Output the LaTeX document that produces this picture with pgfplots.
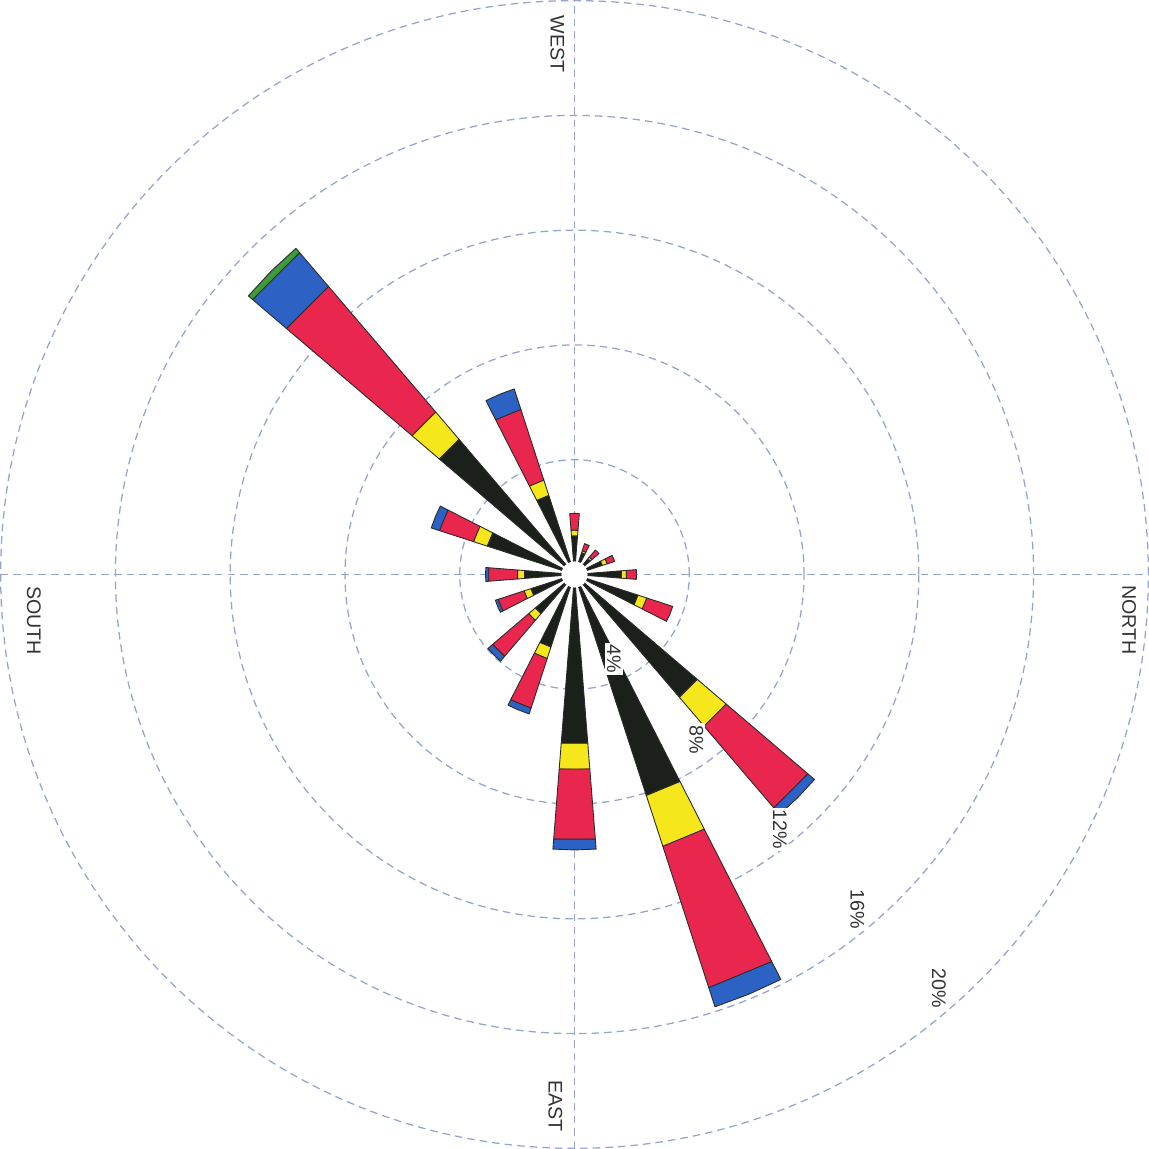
\documentclass[border=0pt]{standalone}
\usepackage{fontspec}
\setmainfont{Liberation Sans}
\usepackage{pgfplots}
\pgfplotsset{compat=1.18}
\definecolor{wblack}{HTML}{1B211A}
\definecolor{wyellow}{HTML}{F5E71C}
\definecolor{wred}{HTML}{E8264E}
\definecolor{wblue}{HTML}{2B62C4}
\definecolor{wgreen}{HTML}{3E9B3A}
\definecolor{gridcol}{HTML}{95A3CF}
\definecolor{edgecol}{HTML}{2A2A2A}
\definecolor{txtcol}{HTML}{333333}
\tikzset{lab/.style={font=\fontsize{7.8}{9}\selectfont, text=txtcol, inner sep=0.8pt},
  gridline/.style={gridcol, line width=0.5pt, dash pattern=on 3pt off 2pt}}
% #1 colour, #2 angle (360 - compass bearing), #3 inner radius, #4 outer radius (percent)
\newcommand\seg[4]{%
  \pgfmathsetmacro\xa{#3*cos(#2-4.5)}\pgfmathsetmacro\ya{#3*sin(#2-4.5)}%
  \pgfmathsetmacro\xb{#4*cos(#2-4.5)}\pgfmathsetmacro\yb{#4*sin(#2-4.5)}%
  \pgfmathsetmacro\xc{#4*cos(#2)}\pgfmathsetmacro\yc{#4*sin(#2)}%
  \pgfmathsetmacro\xd{#4*cos(#2+4.5)}\pgfmathsetmacro\yd{#4*sin(#2+4.5)}%
  \pgfmathsetmacro\xe{#3*cos(#2+4.5)}\pgfmathsetmacro\ye{#3*sin(#2+4.5)}%
  \edef\tmp{\noexpand\addplot[fill=#1,draw=edgecol,line width=0.35pt,line join=round] coordinates {(\xa,\ya) (\xb,\yb) (\xc,\yc) (\xd,\yd) (\xe,\ye)} --cycle;}%
  \tmp}
\begin{document}
\begin{tikzpicture}
\begin{axis}[
  width=16.126cm, height=16.068cm, scale only axis,
  xmin=-20.14, xmax=20.175, ymin=-20.03, ymax=20.14,
  hide axis, clip=false,
]
% grid
\draw[gridline] (axis cs:0,0) circle[radius=1.6cm];
\draw[gridline] (axis cs:0,0) circle[radius=3.2cm];
\draw[gridline] (axis cs:0,0) circle[radius=4.8cm];
\draw[gridline] (axis cs:0,0) circle[radius=6.4cm];
\draw[gridline] (axis cs:0,0) circle[radius=8.0cm];
\draw[gridline] (axis cs:-20,0) -- (axis cs:20,0);
\draw[gridline] (axis cs:0,-20) -- (axis cs:0,20);
% N
\seg{wblack}{360}{0}{1.64}\seg{wyellow}{360}{1.64}{1.81}\seg{wred}{360}{1.81}{2.16}
% NNE
\seg{wblack}{337.5}{0}{2.33}\seg{wyellow}{337.5}{2.33}{2.65}\seg{wred}{337.5}{2.65}{3.6}
% NE
\seg{wblack}{315}{0}{5.63}\seg{wyellow}{315}{5.63}{6.95}\seg{wred}{315}{6.95}{10.7}\seg{wblue}{315}{10.7}{11.0}
% ENE
\seg{wblack}{292.5}{0}{8.1}\seg{wyellow}{292.5}{8.1}{9.96}\seg{wred}{292.5}{9.96}{15.14}\seg{wblue}{292.5}{15.14}{15.84}
% E
\seg{wblack}{270}{0}{5.9}\seg{wyellow}{270}{5.9}{6.8}\seg{wred}{270}{6.8}{9.25}\seg{wblue}{270}{9.25}{9.6}
% ESE
\seg{wblack}{247.5}{0}{2.66}\seg{wyellow}{247.5}{2.66}{3.08}\seg{wred}{247.5}{3.08}{4.9}\seg{wblue}{247.5}{4.9}{5.11}
% SE
\seg{wblack}{225}{0}{1.8}\seg{wyellow}{225}{1.8}{2.1}\seg{wred}{225}{2.1}{3.75}\seg{wblue}{225}{3.75}{3.97}
% SSE
\seg{wblack}{202.5}{0}{1.6}\seg{wyellow}{202.5}{1.6}{1.85}\seg{wred}{202.5}{1.85}{2.8}\seg{wblue}{202.5}{2.8}{2.9}
% S
\seg{wblack}{180}{0}{1.75}\seg{wyellow}{180}{1.75}{1.99}\seg{wred}{180}{1.99}{3.0}\seg{wblue}{180}{3.0}{3.1}
% SSW
\seg{wblack}{157.5}{0}{3.2}\seg{wyellow}{157.5}{3.2}{3.7}\seg{wred}{157.5}{3.7}{4.95}\seg{wblue}{157.5}{4.95}{5.25}
% SW
\seg{wblack}{135}{0}{6.2}\seg{wyellow}{135}{6.2}{7.45}\seg{wred}{135}{7.45}{13.2}\seg{wblue}{135}{13.2}{14.75}\seg{wgreen}{135}{14.75}{14.95}
% WSW
\seg{wblack}{112.5}{0}{2.9}\seg{wyellow}{112.5}{2.9}{3.46}\seg{wred}{112.5}{3.46}{6.05}\seg{wblue}{112.5}{6.05}{6.8}
% W
\seg{wblack}{90}{0}{1.35}\seg{wyellow}{90}{1.35}{1.55}\seg{wred}{90}{1.55}{2.13}
% WNW
\seg{wblack}{67.5}{0}{0.8}\seg{wyellow}{67.5}{0.8}{0.87}\seg{wred}{67.5}{0.87}{1.13}
% NW
\seg{wblack}{45}{0}{0.72}\seg{wyellow}{45}{0.72}{0.8}\seg{wred}{45}{0.8}{1.12}
% NNW
\seg{wblack}{22.5}{0}{1.02}\seg{wyellow}{22.5}{1.02}{1.2}\seg{wred}{22.5}{1.2}{1.47}
% centre
\fill[white] (axis cs:0,0) circle[radius=5.2pt];
% direction labels
\node[lab, rotate=-90] at (axis cs:-0.60,18.49) {WEST};
\node[lab, rotate=-90] at (axis cs:19.33,-1.58) {NORTH};
\node[lab, rotate=-90] at (axis cs:-18.84,-1.61) {SOUTH};
\node[lab, rotate=-90] at (axis cs:-0.67,-18.53) {EAST};
% ring labels
\node[lab, fill=white, rotate=-90] at (axis cs:1.37,-2.95) {4\%};
\node[lab, fill=white, rotate=-90] at (axis cs:4.25,-5.75) {8\%};
\node[lab, fill=white, rotate=-90] at (axis cs:7.16,-8.88) {12\%};
\node[lab, fill=white, rotate=-90] at (axis cs:9.86,-11.68) {16\%};
\node[lab, fill=white, rotate=-90] at (axis cs:12.70,-14.42) {20\%};
\end{axis}
\end{tikzpicture}
\end{document}
